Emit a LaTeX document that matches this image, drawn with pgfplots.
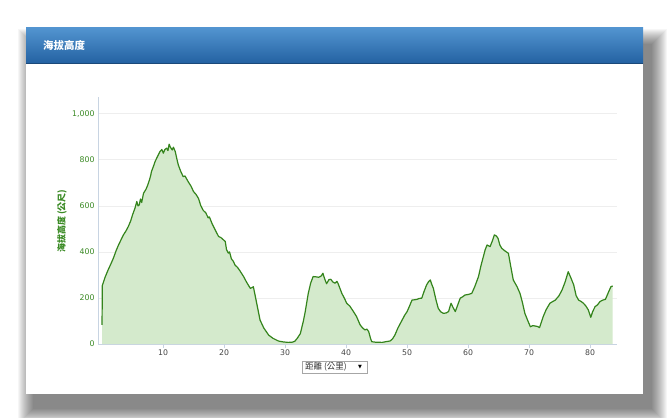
\documentclass[border=0pt]{standalone}
\usepackage{pgfplots}
\usepackage{pgfplotstable}
\pgfplotsset{compat=1.18}
\usepackage{fontspec}
\setmainfont{DejaVu Sans}
\newfontfamily\cjk{Noto Sans CJK TC}
\definecolor{lineg}{RGB}{52,132,28}
\definecolor{fillg}{RGB}{212,234,204}
\definecolor{labg}{RGB}{58,138,36}
\definecolor{hdrtop}{RGB}{82,148,208}
\definecolor{hdrbot}{RGB}{36,98,162}
\definecolor{axisc}{RGB}{200,212,226}
\definecolor{gridc}{RGB}{238,238,238}
\definecolor{xlabc}{RGB}{70,70,70}
\pgfplotstableread{
km elev
0 83
0.05 254
0.5 290
1.0 322
1.4 345
1.85 372
2.3 405
2.7 430
3.1 452
3.5 474
3.9 490
4.3 510
4.7 535
5.0 561
5.4 590
5.7 619
5.9 600
6.1 604
6.3 630
6.5 615
6.8 655
7.2 672
7.5 691
7.8 715
8.0 735
8.1 749
8.4 770
8.7 793
9.1 815
9.5 836
9.8 845
10.05 829
10.3 845
10.6 851
10.8 840
11.0 868
11.2 855
11.5 843
11.7 855
12.0 836
12.3 800
12.5 778
12.9 750
13.3 727
13.6 730
14.1 706
14.6 685
15.0 662
15.4 650
15.8 633
16.2 600
16.6 580
17.0 570
17.4 548
17.6 552
18.0 525
18.5 498
19.1 467
19.5 462
19.8 455
20.2 445
20.4 410
20.7 395
20.9 400
21.2 370
21.5 360
21.8 343
22.2 333
22.6 318
23.2 293
23.7 268
24.3 242
24.6 245
24.8 249
25.1 210
25.4 170
25.9 104
26.5 70
27.3 39
28.0 25
28.9 13
29.7 9
30.5 7
31.2 8
31.6 12
32.0 25
32.5 45
33.0 100
33.3 140
33.8 220
34.2 265
34.6 293
35.0 292
35.5 290
35.9 295
36.2 307
36.5 282
36.8 262
37.2 280
37.5 281
37.8 270
38.2 264
38.5 272
38.7 262
39.3 220
39.7 200
40.1 177
40.6 165
41.2 141
41.7 120
42.3 83
42.7 70
43.1 61
43.4 65
43.7 54
44.0 25
44.2 10
44.8 8
45.9 7
46.5 10
47.2 13
47.6 22
48.0 39
48.5 70
49.1 100
49.6 125
50.0 141
50.4 165
50.8 191
51.2 192
51.6 194
52.0 198
52.4 199
52.8 230
53.2 257
53.5 270
53.8 278
54.0 262
54.3 242
54.7 195
55.1 155
55.5 140
55.95 133
56.4 135
56.8 141
57.0 160
57.2 177
57.5 160
57.9 141
58.3 170
58.7 199
59.1 205
59.5 213
60.0 215
60.6 220
61.1 250
61.7 293
62.1 340
62.5 380
62.8 410
63.1 430
63.6 423
64.0 450
64.3 474
64.6 470
64.9 459
65.2 430
65.5 416
66.0 405
66.6 394
67.0 335
67.4 278
68.0 250
68.5 220
68.9 180
69.3 133
69.8 100
70.2 75
70.6 80
71.0 78
71.4 76
71.7 71
72.0 95
72.3 119
72.8 150
73.4 177
73.9 185
74.3 191
74.9 210
75.4 235
75.9 270
76.4 314
76.8 290
77.3 257
77.7 210
78.1 191
78.5 185
78.9 177
79.3 165
79.7 148
80.1 116
80.4 140
80.8 162
81.2 170
81.6 184
82.0 190
82.5 194
83.0 225
83.4 249
83.7 252
}\elev
\begin{document}
\begin{tikzpicture}[x=1bp,y=1bp]
\useasboundingbox (0,0) rectangle (668,417);
\fill[white] (0,0) rectangle (668,417);
% shadow
\foreach \r in {1,...,16} {
  \fill[black,opacity=0.035] (34-\r,9-\r) rectangle (651+\r,372+\r);
}
% panel
\fill[white] (26,23) rectangle (643,389);
\shade[top color=hdrtop, bottom color=hdrbot] (26,354) rectangle (643,389);
\draw[hdrbot!75!black, line width=0.8bp] (26,354) -- (643,354);
\node[anchor=west, text=white, inner sep=0, font=\cjk\bfseries\fontsize{10.5}{12}\selectfont] at (43,371) {海拔高度};
\begin{axis}[
  at={(98bp,73bp)}, anchor=south west,
  scale only axis, width=519bp, height=247bp,
  xmin=-0.66, xmax=84.4, ymin=0, ymax=1073,
  axis x line*=bottom, axis y line*=left,
  axis line style={draw=axisc, line width=0.7bp, -},
  ytick={0,200,...,1000}, scaled y ticks=false,
  ytick style={draw=none},
  ymajorgrids, major grid style={draw=gridc, line width=0.7bp},
  xtick={10,20,...,80},
  xtick align=outside, major tick length=4bp,
  xtick style={draw=axisc, line width=0.7bp},
  /pgf/number format/assume math mode=true,
  /pgf/number format/1000 sep={,},
  yticklabel style={font=\fontsize{7.8}{9}\selectfont, text=labg},
  xticklabel style={font=\fontsize{7.8}{9}\selectfont, text=xlabc, yshift=2bp},
  clip=false,
]
\addplot[fill=fillg, draw=none] table[x=km,y=elev] {\elev} \closedcycle;
\addplot[lineg, line width=1.2bp, line join=round] table[x=km,y=elev] {\elev};
\end{axis}
\node[rotate=90, text=labg, inner sep=0, font=\cjk\bfseries\fontsize{9}{10}\selectfont] at (62,196) {海拔高度 (公尺)};
\draw[draw=black!35, fill=white, line width=0.6bp] (302,44) rectangle (367,56);
\node[anchor=west, inner sep=0, text=black!80, font=\cjk\fontsize{8.5}{10}\selectfont] at (305,50) {距離 (公里)};
\node[inner sep=0, font=\fontsize{5}{6}\selectfont] at (360,50) {▼};
\end{tikzpicture}
\end{document}
